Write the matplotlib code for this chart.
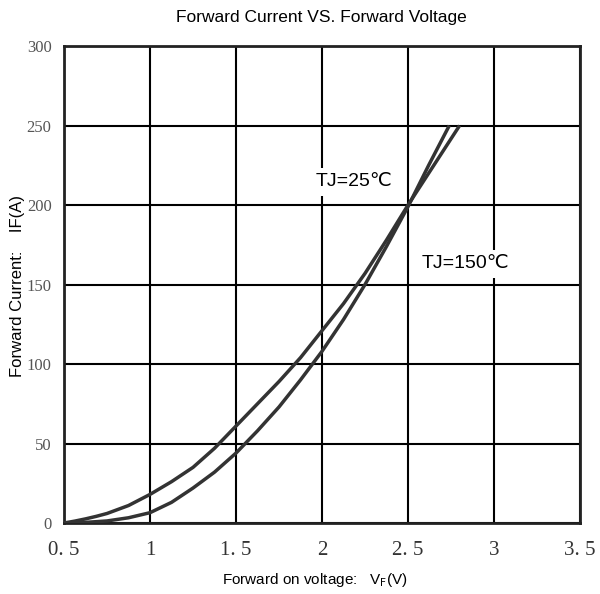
import matplotlib
matplotlib.use("Agg")
import matplotlib.pyplot as plt

# Data
v_150 = [0.5, 0.5625, 0.625, 0.6875, 0.75, 0.875, 1.0, 1.125, 1.25, 1.375, 1.5, 1.625, 1.75,
         1.875, 2.0, 2.125, 2.25, 2.375, 2.5, 2.575, 2.65, 2.725, 2.8]
i_150 = [0, 1.2, 2.6, 4.2, 6, 11, 18, 26, 35, 47, 61, 75, 89,
         104, 121, 138, 157, 178, 200, 212.5, 225, 237.5, 250]
v_25 = [0.5, 0.625, 0.75, 0.875, 1.0, 1.125, 1.25, 1.375, 1.5, 1.625, 1.75, 1.875,
        2.0, 2.125, 2.25, 2.375, 2.5, 2.56, 2.62, 2.68, 2.74]
i_25 = [0, 0.4, 1.3, 3.3, 6.5, 13, 22, 32, 44, 58, 73, 90,
        108, 128, 150, 174, 199, 212, 225, 237.5, 250]

x_ticks = [0.5, 1, 1.5, 2, 2.5, 3, 3.5]
x_ticklabels = ["0. 5", "1", "1. 5", "2", "2. 5", "3", "3. 5"]
y_ticks = [0, 50, 100, 150, 200, 250, 300]

title = "Forward Current VS. Forward Voltage"
xlabel = "Forward on voltage:   V$_\\mathrm{F}$(V)"
ylabel = "Forward Current:    IF(A)"

sans = ["Liberation Sans", "DejaVu Sans"]
serif = ["Liberation Serif", "DejaVu Serif"]

fig = plt.figure(figsize=(6, 5.94), dpi=100)
ax = fig.add_axes([0.1067, 0.1195, 0.86, 0.803])

ax.plot(v_150, i_150, color="#333333", lw=2.5, solid_capstyle="butt", zorder=3)
ax.plot(v_25, i_25, color="#333333", lw=2.5, solid_capstyle="butt", zorder=3)

ax.set_xlim(0.5, 3.5)
ax.set_ylim(0, 300)
ax.set_xticks(x_ticks)
ax.set_xticklabels(x_ticklabels, family=serif, fontsize=15, color="#333333")
ax.set_yticks(y_ticks)
ax.set_yticklabels([str(t) for t in y_ticks], family=serif, fontsize=12, color="#555555")
ax.tick_params(length=0)
ax.tick_params(axis="y", pad=9)
ax.tick_params(axis="x", pad=13)
ax.grid(True, color="black", lw=1.5, zorder=1)
for s in ax.spines.values():
    s.set_linewidth(2)
    s.set_color("#222222")

ax.text(1.965, 214.5, "TJ=25℃", family=sans, fontsize=14, va="center", ha="left",
        bbox=dict(facecolor="white", edgecolor="none", pad=4), zorder=2)
ax.text(2.58, 163, "TJ=150℃", family=sans, fontsize=14, va="center", ha="left",
        bbox=dict(facecolor="white", edgecolor="none", pad=4), zorder=2)

fig.text(0.535, 0.970, title, family=sans, fontsize=12.5, ha="center", va="center")
fig.text(0.525, 0.024, xlabel, family=sans, fontsize=11, ha="center", va="center")
fig.text(0.03, 0.518, ylabel, family=sans, fontsize=12, ha="center", va="center", rotation=90)

fig.savefig("out.png", dpi=100)
